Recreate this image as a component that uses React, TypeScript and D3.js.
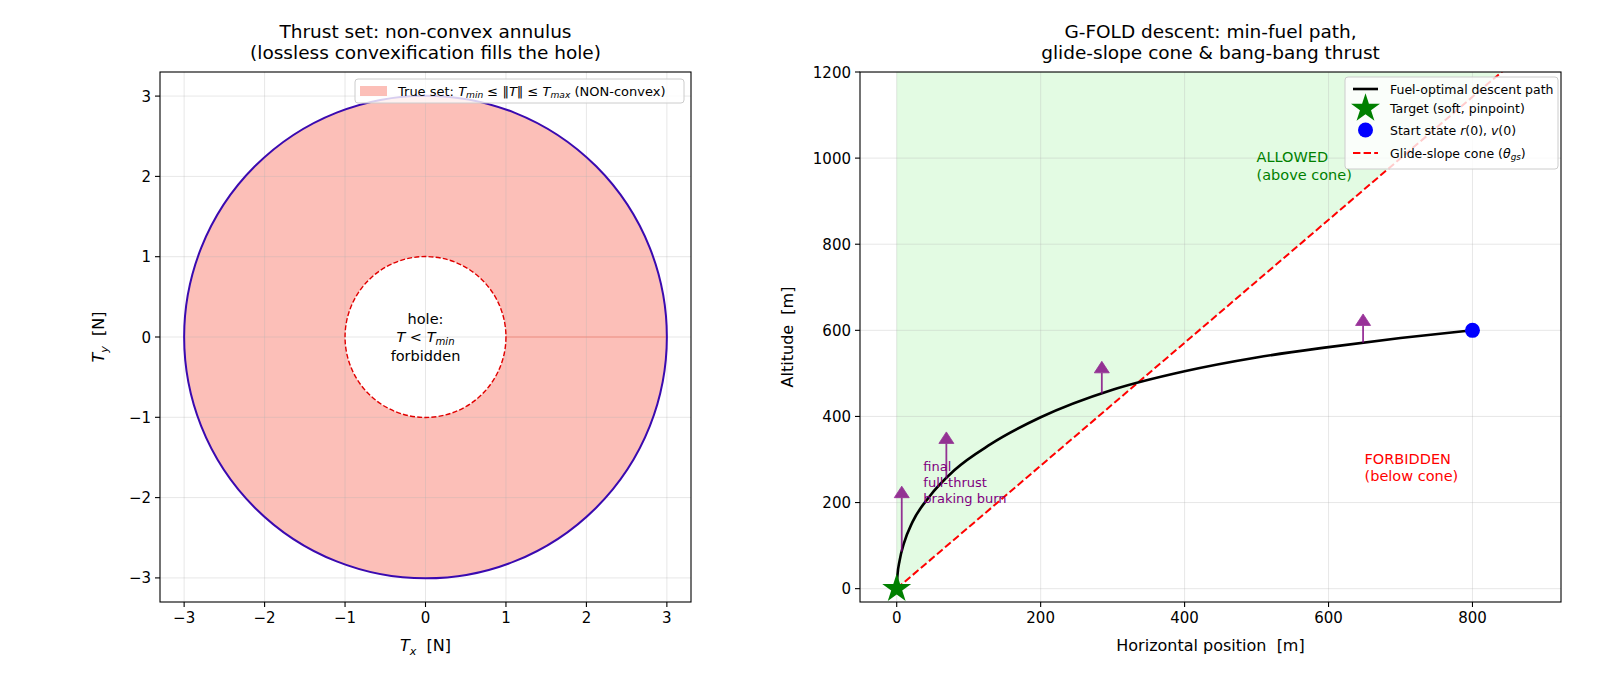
import React, { useEffect, useRef } from 'react';
import * as d3 from 'd3';

// Thrust set (left panel)
const T_MIN = 1;
const T_MAX = 3;
const thrustTicks = [-3, -2, -1, 0, 1, 2, 3];

// Descent trajectory (right panel)
const pathX = [0, 1, 4, 10, 22, 45, 80, 130, 200, 300, 400, 500, 600, 700, 800];
const pathAlt = [0, 30, 65, 105, 155, 213, 275, 335, 398, 462, 505, 537, 561, 582, 600];
const coneX = [0, 900];
const coneAlt = [0, 1285];
const burnX = [7, 69, 285, 648];
const burnBase = [86, 256, 453, 571];
const burnTip = [238, 364, 528, 638];
const startState = [800, 600];
const targetState = [0, 0];
const posTicks = [0, 200, 400, 600, 800];
const altTicks = [0, 200, 400, 600, 800, 1000, 1200];

const FONT = '"DejaVu Sans", sans-serif';
const SALMON = 'rgb(250,128,114)';

type Part = { t: string; i?: boolean; sub?: boolean };

// mathtext-like runs: italic symbols and lowered subscripts
function rich(text: any, parts: Part[], fs: number) {
  let down = false;
  parts.forEach(p => {
    const ts = text.append('tspan').text(p.t);
    if (p.i) ts.attr('font-style', 'italic');
    if (p.sub) {
      ts.attr('font-size', fs * 0.7);
      if (!down) { ts.attr('dy', fs * 0.22); down = true; }
    } else if (down) {
      ts.attr('dy', -fs * 0.22);
      down = false;
    }
  });
}

function drawGrid(g: any, box: any, x: any, y: any, xt: number[], yt: number[]) {
  g.append('g').selectAll('line').data(xt).join('line')
    .attr('x1', (d: number) => x(d)).attr('x2', (d: number) => x(d))
    .attr('y1', box.y0).attr('y2', box.y1)
    .attr('stroke', '#b0b0b0').attr('stroke-opacity', 0.35).attr('stroke-width', 0.9);
  g.append('g').selectAll('line').data(yt).join('line')
    .attr('y1', (d: number) => y(d)).attr('y2', (d: number) => y(d))
    .attr('x1', box.x0).attr('x2', box.x1)
    .attr('stroke', '#b0b0b0').attr('stroke-opacity', 0.35).attr('stroke-width', 0.9);
}

function drawTicks(g: any, box: any, x: any, y: any, xt: number[], yt: number[], fmt: (v: number) => string) {
  const tickFs = 15;
  g.append('rect')
    .attr('x', box.x0).attr('y', box.y0)
    .attr('width', box.x1 - box.x0).attr('height', box.y1 - box.y0)
    .attr('fill', 'none').attr('stroke', '#000').attr('stroke-width', 1.1);
  xt.forEach(v => {
    g.append('line').attr('x1', x(v)).attr('x2', x(v)).attr('y1', box.y1).attr('y2', box.y1 + 5)
      .attr('stroke', '#000').attr('stroke-width', 1.1);
    g.append('text').attr('x', x(v)).attr('y', box.y1 + 21)
      .attr('text-anchor', 'middle').attr('font-size', tickFs).text(fmt(v));
  });
  yt.forEach(v => {
    g.append('line').attr('y1', y(v)).attr('y2', y(v)).attr('x1', box.x0 - 5).attr('x2', box.x0)
      .attr('stroke', '#000').attr('stroke-width', 1.1);
    g.append('text').attr('x', box.x0 - 9).attr('y', y(v) + 5.5)
      .attr('text-anchor', 'end').attr('font-size', tickFs).text(fmt(v));
  });
}

function title(svg: any, cx: number, lines: string[]) {
  lines.forEach((s, i) => {
    svg.append('text').attr('x', cx).attr('y', 38 + i * 21)
      .attr('text-anchor', 'middle').attr('font-size', 18.5).text(s);
  });
}

export default function App() {
  const svgRef = useRef<SVGSVGElement>(null);

  useEffect(() => {
    if (!svgRef.current) return;
    const svg = d3.select(svgRef.current);
    svg.selectAll('*').remove();
    svg.attr('font-family', FONT);
    const minus = (v: number) => (v < 0 ? '\u2212' + Math.abs(v) : String(v));
    const legFs = 12.5;

    // ---------------- left: thrust annulus ----------------
    const L = { x0: 160, x1: 691, y0: 72, y1: 602 };
    const xL = d3.scaleLinear().domain([-3.3, 3.3]).range([L.x0, L.x1]);
    const yL = d3.scaleLinear().domain([-3.3, 3.3]).range([L.y1, L.y0]);
    const gl = svg.append('g');

    const rOut = xL(T_MAX) - xL(0);
    const rIn = xL(T_MIN) - xL(0);
    const annulus = d3.arc()({ innerRadius: rIn, outerRadius: rOut, startAngle: 0, endAngle: 2 * Math.PI } as any);
    gl.append('path').attr('d', annulus)
      .attr('transform', `translate(${xL(0)},${yL(0)})`)
      .attr('fill', SALMON).attr('fill-opacity', 0.5);
    drawGrid(gl, L, xL, yL, thrustTicks, thrustTicks);
    // seam where the fill polygon closes on itself
    gl.append('line')
      .attr('x1', xL(T_MIN)).attr('x2', xL(T_MAX)).attr('y1', yL(0)).attr('y2', yL(0))
      .attr('stroke', SALMON).attr('stroke-opacity', 0.5).attr('stroke-width', 1.4);
    gl.append('circle').attr('cx', xL(0)).attr('cy', yL(0)).attr('r', rOut)
      .attr('fill', 'none').attr('stroke', '#3a0ab0').attr('stroke-width', 2);
    gl.append('circle').attr('cx', xL(0)).attr('cy', yL(0)).attr('r', rIn)
      .attr('fill', 'none').attr('stroke', '#e00000').attr('stroke-width', 1.4)
      .attr('stroke-dasharray', '5,2.2');

    const holeFs = 14.5;
    const hole = gl.append('g').attr('text-anchor', 'middle').attr('font-size', holeFs);
    hole.append('text').attr('x', xL(0)).attr('y', yL(0) - 13.5).text('hole:');
    const mid = hole.append('text').attr('x', xL(0)).attr('y', yL(0) + 5);
    rich(mid, [{ t: 'T', i: true }, { t: ' < ' }, { t: 'T', i: true }, { t: 'min', i: true, sub: true }], holeFs);
    hole.append('text').attr('x', xL(0)).attr('y', yL(0) + 23.5).text('forbidden');

    drawTicks(gl, L, xL, yL, thrustTicks, thrustTicks, minus);

    // legend
    const lg = gl.append('g');
    lg.append('rect').attr('x', 355).attr('y', 79).attr('width', 329).attr('height', 24).attr('rx', 3)
      .attr('fill', '#fff').attr('fill-opacity', 0.8).attr('stroke', '#cccccc');
    lg.append('rect').attr('x', 360).attr('y', 86).attr('width', 27).attr('height', 10)
      .attr('fill', SALMON).attr('fill-opacity', 0.5);
    const lt = lg.append('text').attr('x', 398).attr('y', 95.5).attr('font-size', 13).style('white-space', 'pre');
    rich(lt, [
      { t: 'True set: ' }, { t: 'T', i: true }, { t: 'min', i: true, sub: true },
      { t: ' \u2264 \u2016' }, { t: 'T', i: true }, { t: '\u2016 \u2264 ' },
      { t: 'T', i: true }, { t: 'max', i: true, sub: true }, { t: ' (NON-convex)' },
    ], 13);

    title(svg, (L.x0 + L.x1) / 2, ['Thrust set: non-convex annulus', '(lossless convexification fills the hole)']);
    const xlab = svg.append('text').attr('x', (L.x0 + L.x1) / 2).attr('y', 651)
      .attr('text-anchor', 'middle').attr('font-size', 16).style('white-space', 'pre');
    rich(xlab, [{ t: 'T', i: true }, { t: 'x', i: true, sub: true }, { t: '  [N]' }], 16);
    const ylab = svg.append('text').attr('transform', `translate(104,${(L.y0 + L.y1) / 2}) rotate(-90)`)
      .attr('text-anchor', 'middle').attr('font-size', 16).style('white-space', 'pre');
    rich(ylab, [{ t: 'T', i: true }, { t: 'y', i: true, sub: true }, { t: '  [N]' }], 16);

    // ---------------- right: G-FOLD descent ----------------
    const R = { x0: 860, x1: 1561, y0: 72, y1: 602 };
    const xR = d3.scaleLinear().domain([-51, 923]).range([R.x0, R.x1]);
    const yR = d3.scaleLinear().domain([-31, 1200]).range([R.y1, R.y0]);
    svg.append('clipPath').attr('id', 'clipR').append('rect')
      .attr('x', R.x0).attr('y', R.y0).attr('width', R.x1 - R.x0).attr('height', R.y1 - R.y0);
    const gr = svg.append('g');
    const plot = gr.append('g').attr('clip-path', 'url(#clipR)');

    const cone = coneX.map((x, i) => [x, coneAlt[i]] as [number, number]);
    const allowed = d3.area<[number, number]>()
      .x(d => xR(d[0])).y0(d => yR(d[1])).y1(yR(1200));
    plot.append('path').attr('d', allowed(cone))
      .attr('fill', 'rgb(144,238,144)').attr('fill-opacity', 0.25);
    drawGrid(plot, R, xR, yR, posTicks, altTicks);

    const line = d3.line<[number, number]>().x(d => xR(d[0])).y(d => yR(d[1]));
    plot.append('path').attr('d', line(cone))
      .attr('fill', 'none').attr('stroke', '#ff0000').attr('stroke-width', 2)
      .attr('stroke-dasharray', '7.4,3.2');

    const traj = pathX.map((x, i) => [x, pathAlt[i]] as [number, number]);
    const smooth = d3.line<[number, number]>().x(d => xR(d[0])).y(d => yR(d[1])).curve(d3.curveMonotoneX);
    plot.append('path').attr('d', smooth(traj))
      .attr('fill', 'none').attr('stroke', '#000').attr('stroke-width', 2.6);

    // thrust arrows (bang-bang burns)
    burnX.forEach((bx, i) => {
      const px = xR(bx);
      const yb = yR(burnBase[i]);
      const yt = yR(burnTip[i]);
      const head = 11.5;
      const a = plot.append('g').attr('opacity', 0.8);
      a.append('line').attr('x1', px).attr('x2', px).attr('y1', yb).attr('y2', yt + head)
        .attr('stroke', 'purple').attr('stroke-width', 1.8);
      const p = d3.path();
      p.moveTo(px - 7.5, yt + head); p.lineTo(px + 7.5, yt + head); p.lineTo(px, yt); p.closePath();
      a.append('path').attr('d', p.toString()).attr('fill', 'purple').attr('stroke', 'purple').attr('stroke-width', 0.8);
    });

    const star = d3.symbol(d3.symbolStar, 260);
    plot.append('path').attr('d', star())
      .attr('transform', `translate(${xR(targetState[0])},${yR(targetState[1])})`)
      .attr('fill', 'green');
    plot.append('circle').attr('cx', xR(startState[0])).attr('cy', yR(startState[1])).attr('r', 7.5)
      .attr('fill', 'blue');

    const annFs = 14.5;
    const ok = gr.append('g').attr('fill', 'green').attr('font-size', annFs);
    ok.append('text').attr('x', xR(500)).attr('y', yR(950) - 17.5).text('ALLOWED');
    ok.append('text').attr('x', xR(500)).attr('y', yR(950)).text('(above cone)');
    const bad = gr.append('g').attr('fill', 'red').attr('font-size', annFs);
    bad.append('text').attr('x', xR(650)).attr('y', yR(250) - 17.5).text('FORBIDDEN');
    bad.append('text').attr('x', xR(650)).attr('y', yR(250)).text('(below cone)');
    const burn = gr.append('g').attr('fill', 'purple').attr('font-size', 13);
    ['final', 'full-thrust', 'braking burn'].forEach((s, i) => {
      burn.append('text').attr('x', xR(37)).attr('y', yR(200) - (2 - i) * 16).text(s);
    });

    drawTicks(gr, R, xR, yR, posTicks, altTicks, String);

    // legend
    const rg = gr.append('g');
    rg.append('rect').attr('x', 1345).attr('y', 77).attr('width', 213).attr('height', 92).attr('rx', 3)
      .attr('fill', '#fff').attr('fill-opacity', 0.8).attr('stroke', '#cccccc');
    const rows = [89, 108.5, 130, 153];
    const hx0 = 1353, hx1 = 1378, tx = 1390;
    rg.append('line').attr('x1', hx0).attr('x2', hx1).attr('y1', rows[0]).attr('y2', rows[0])
      .attr('stroke', '#000').attr('stroke-width', 2.6);
    rg.append('path').attr('d', star()).attr('transform', `translate(${(hx0 + hx1) / 2},${rows[1]})`)
      .attr('fill', 'green');
    rg.append('circle').attr('cx', (hx0 + hx1) / 2).attr('cy', rows[2]).attr('r', 7.5).attr('fill', 'blue');
    rg.append('line').attr('x1', hx0).attr('x2', hx1).attr('y1', rows[3]).attr('y2', rows[3])
      .attr('stroke', '#ff0000').attr('stroke-width', 2).attr('stroke-dasharray', '7.4,3.2');
    const rl = (i: number) => rg.append('text').attr('x', tx).attr('y', rows[i] + 4.5)
      .attr('font-size', legFs).style('white-space', 'pre');
    rl(0).text('Fuel-optimal descent path');
    rl(1).text('Target (soft, pinpoint)');
    rich(rl(2), [{ t: 'Start state ' }, { t: 'r', i: true }, { t: '(0), ' }, { t: 'v', i: true }, { t: '(0)' }], legFs);
    rich(rl(3), [{ t: 'Glide-slope cone (' }, { t: '\u03b8', i: true }, { t: 'gs', i: true, sub: true }, { t: ')' }], legFs);

    title(svg, (R.x0 + R.x1) / 2, ['G-FOLD descent: min-fuel path,', 'glide-slope cone & bang-bang thrust']);
    svg.append('text').attr('x', (R.x0 + R.x1) / 2).attr('y', 651)
      .attr('text-anchor', 'middle').attr('font-size', 16).style('white-space', 'pre')
      .text('Horizontal position  [m]');
    svg.append('text').attr('transform', `translate(793,${(R.y0 + R.y1) / 2}) rotate(-90)`)
      .attr('text-anchor', 'middle').attr('font-size', 16).style('white-space', 'pre')
      .text('Altitude  [m]');
  }, []);

  return (
    <div style={{ position: 'absolute', left: 0, top: 0 }}>
      <svg ref={svgRef} width={1600} height={677} style={{ display: 'block', background: '#fff' }}></svg>
    </div>
  );
}
